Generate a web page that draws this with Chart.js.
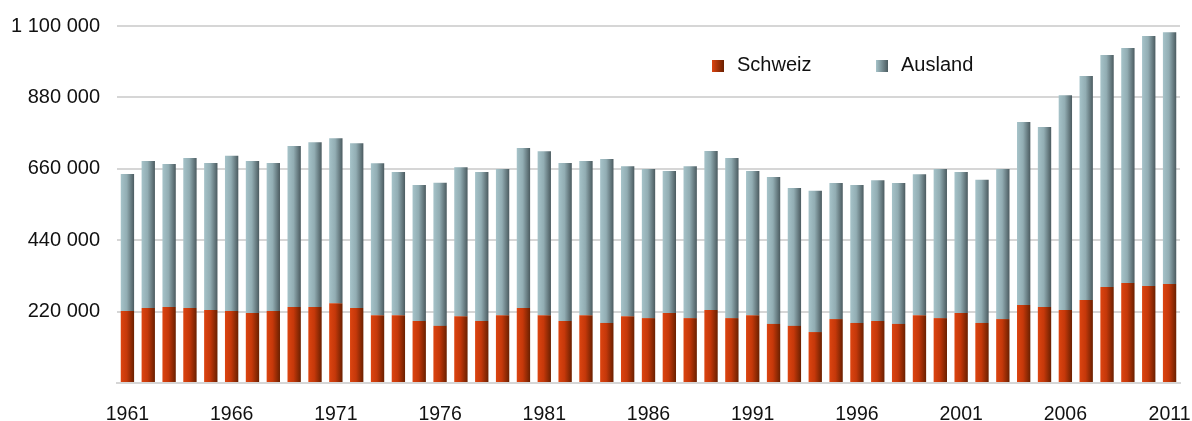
<!DOCTYPE html>
<html>
<head>
<meta charset="utf-8">
<script src="https://cdn.jsdelivr.net/npm/chart.js@4/dist/chart.umd.min.js"></script>
<style>
  html, body { margin: 0; padding: 0; background: #fff; }
  #wrap { width: 1192px; height: 421px; position: relative; }
</style>
</head>
<body>
<div id="wrap"><canvas id="chart"></canvas></div>
<script>
const years = [];
for (let y = 1961; y <= 2011; y++) years.push(String(y));

const schweiz = [
    222000, 231000, 234000, 231000, 225000, 222000, 216000, 222000, 234000, 234000,
    246000, 231000, 209000, 209000, 191000, 176000, 206000, 191000, 209000, 231000,
    209000, 191000, 209000, 185000, 206000, 200000, 216000, 200000, 225000, 200000,
    209000, 182000, 176000, 157000, 197000, 185000, 191000, 182000, 209000, 200000,
    216000, 185000, 197000, 240000, 234000, 225000, 256000, 296000, 308000, 299000,
    305000,
];
const ausland = [
    422000, 453000, 441000, 462000, 453000, 478000, 468000, 456000, 496000, 508000,
    508000, 508000, 468000, 441000, 419000, 441000, 459000, 459000, 450000, 493000,
    505000, 487000, 475000, 505000, 462000, 459000, 437000, 468000, 490000, 493000,
    444000, 453000, 425000, 435000, 419000, 425000, 434000, 434000, 434000, 459000,
    434000, 441000, 462000, 564000, 555000, 662000, 690000, 715000, 724000, 770000,
    776000,
];
const yTicks = [0, 220000, 440000, 660000, 880000, 1100000];

const fontFamily = "'Liberation Sans', Arial, sans-serif";
const orangeStops = ["#dc4410", "#c5380a", "#6a2000"];
const greyStops = ["#a6c3c9", "#92adb3", "#4b5b60"];

const formatNum = (v) => String(v).replace(/\B(?=(\d{3})+(?!\d))/g, " ");

function barGradient(stops, flat) {
    return function (ctx) {
        const el = ctx.element;
        if (!el || el.x == null || isNaN(el.x) || !el.width) return flat;
        const c = ctx.chart.ctx;
        const g = c.createLinearGradient(el.x - el.width / 2, 0, el.x + el.width / 2, 0);
        g.addColorStop(0, stops[0]);
        g.addColorStop(0.45, stops[1]);
        g.addColorStop(1, stops[2]);
        return g;
    };
}

// legend drawn inside the plot area, like the original
const legendPlugin = {
    id: "innerLegend",
    afterDraw(chart) {
        const c = chart.ctx;
        const items = [
            { label: chart.data.datasets[0].label, x: 712, stops: orangeStops },
            { label: chart.data.datasets[1].label, x: 876, stops: greyStops },
        ];
        c.save();
        c.font = "20px " + fontFamily;
        c.textBaseline = "middle";
        items.forEach((it) => {
            const g = c.createLinearGradient(it.x, 0, it.x + 12, 0);
            g.addColorStop(0, it.stops[0]);
            g.addColorStop(1, it.stops[2]);
            c.fillStyle = g;
            c.fillRect(it.x, 60, 12, 12);
            c.fillStyle = "#111";
            c.fillText(it.label, it.x + 25, 65);
        });
        c.restore();
    },
};

const chart = new Chart(document.getElementById("chart").getContext("2d"), {
    type: "bar",
    data: {
        labels: years,
        datasets: [
            {
                label: "Schweiz",
                data: schweiz,
                backgroundColor: barGradient(orangeStops, "#c5380a"),
                barPercentage: 0.64,
                categoryPercentage: 1,
                borderWidth: 0,
            },
            {
                label: "Ausland",
                data: ausland,
                backgroundColor: barGradient(greyStops, "#92adb3"),
                barPercentage: 0.64,
                categoryPercentage: 1,
                borderWidth: 0,
            },
        ],
    },
    options: {
        responsive: true,
        maintainAspectRatio: false,
        animation: false,
        layout: { padding: { top: 26, right: 12, left: 0, bottom: 0 } },
        plugins: {
            legend: { display: false },
            tooltip: { enabled: false },
        },
        scales: {
            x: {
                stacked: true,
                grid: { display: false, drawTicks: false },
                border: { color: "#d6d6d6", width: 2 },
                ticks: {
                    autoSkip: false,
                    maxRotation: 0,
                    padding: 20,
                    color: "#111",
                    font: { family: fontFamily, size: 19.5 },
                    callback: function (value, index) {
                        return index % 5 === 0 ? years[index] : "";
                    },
                },
                afterFit: (scale) => {
                    scale.height = 38;
                    scale.paddingLeft = 0;
                    scale.paddingRight = 0;
                },
            },
            y: {
                stacked: true,
                min: 0,
                max: 1100000,
                afterBuildTicks: (scale) => {
                    scale.ticks = yTicks.map((v) => ({ value: v }));
                },
                grid: { color: "#d6d6d6", lineWidth: 2, drawTicks: false },
                border: { display: false },
                ticks: {
                    padding: 17,
                    color: "#111",
                    font: { family: fontFamily, size: 20 },
                    callback: (v) => (v === 0 ? "" : formatNum(v)),
                },
                afterFit: (scale) => {
                    scale.width = 117;
                    scale.paddingTop = 0;
                    scale.paddingBottom = 0;
                },
            },
        },
    },
    plugins: [legendPlugin],
});
// second pass so the gradients know where the bars are
chart.update("none");
</script>
</body>
</html>
